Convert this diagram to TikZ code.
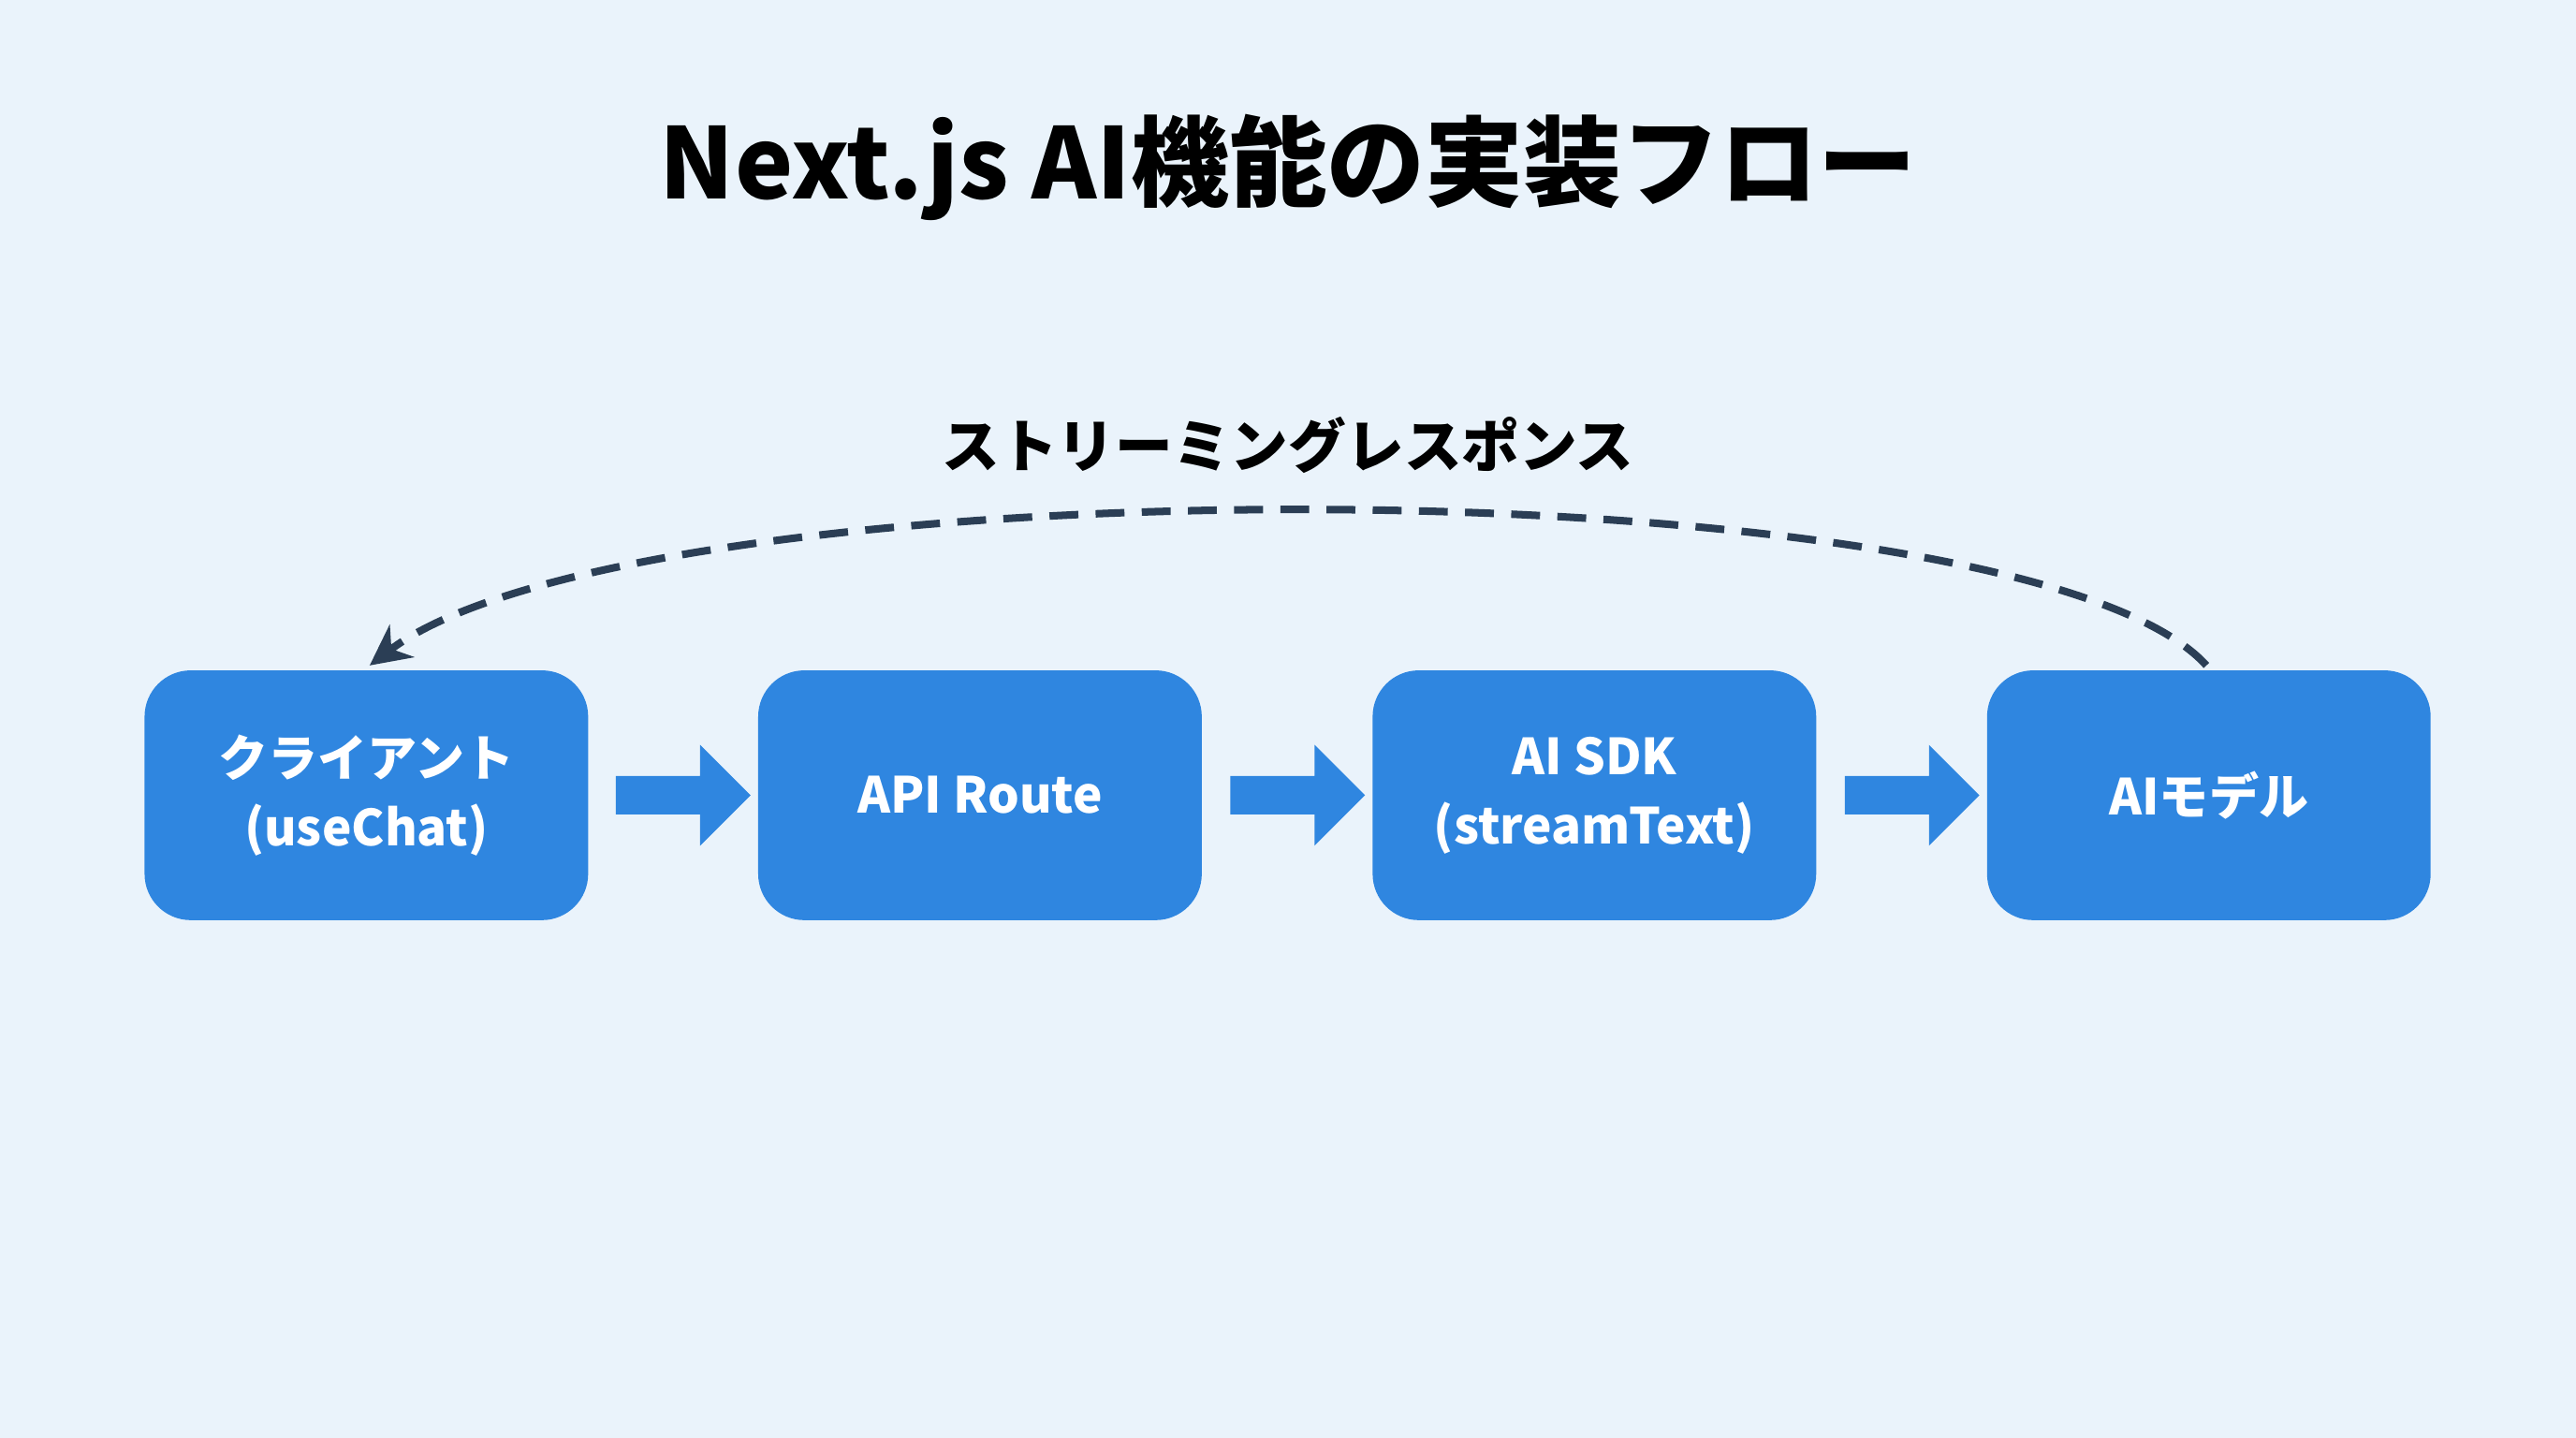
\documentclass[tikz,border=0pt]{standalone}
\usepackage{fontspec}
\setmainfont{Noto Sans CJK JP}
\usetikzlibrary{shapes.arrows,positioning,arrows.meta}
\definecolor{mbox}{HTML}{2F86E0}
\definecolor{mdark}{HTML}{2B3E55}
\definecolor{mbg}{HTML}{EAF3FB}
\tikzstyle{stage}=[rectangle, rounded corners=8pt, fill=mbox, text=white, minimum width=2.7cm, minimum height=1.52cm, align=center, font=\bfseries\fontsize{8.6}{12}\selectfont]
\tikzstyle{flow}=[single arrow, fill=mbox, minimum height=0.82cm, single arrow head extend=0.19cm, single arrow head indent=0cm, inner sep=0pt]
\tikzstyle{back}=[line width=1.3pt, dashed, dash pattern=on 5pt off 3pt, color=mdark, -{Stealth[length=7pt,width=7pt]}]

\begin{document}
\begin{tikzpicture}
    \fill[mbg] (0,0) rectangle (15.68,8.75);
    \useasboundingbox (0,0) rectangle (15.68,8.75);
    \node (title) at (7.84,7.73) {\bfseries\fontsize{17}{20}\selectfont Next.js AI機能の実装フロー};
    \node (c1) [stage] at (2.23,3.91) {クライアント\\(useChat)};
    \node (c2) [stage] at (5.965,3.91) {API Route};
    \node (c3) [stage] at (9.705,3.91) {AI SDK\\(streamText)};
    \node (c4) [stage] at (13.445,3.91) {AIモデル};
    \node (a1) [flow] at (4.1,3.91) {\rule{0pt}{0.22cm}};
    \node (a2) [flow] at (7.84,3.91) {\rule{0pt}{0.22cm}};
    \node (a3) [flow] at (11.58,3.91) {\rule{0pt}{0.22cm}};
    \coordinate (s) at (13.43,4.7);
    \coordinate (e) at (2.25,4.7);
    \draw[back] (s) .. controls (12.3,5.95) and (3.9,5.95) .. (e);
    \node (lbl) at (7.84,6.04) {\bfseries\fontsize{10}{12}\selectfont ストリーミングレスポンス};
\end{tikzpicture}
\end{document}
